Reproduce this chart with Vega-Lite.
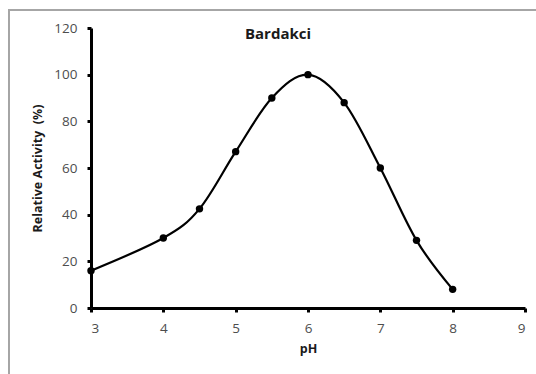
{
  "$schema": "https://vega.github.io/schema/vega-lite/v6.json",
  "width": 434,
  "height": 280,
  "autosize": {"type": "none"},
  "padding": {"left": 91, "top": 28, "right": 11, "bottom": 66},
  "background": "white",
  "title": {
    "text": "Bardakci",
    "anchor": "middle",
    "dx": -30,
    "offset": -33,
    "fontSize": 15,
    "fontWeight": "bold",
    "font": "Open Sans",
    "color": "#1a1a1a"
  },
  "data": {
    "values": [
      {"pH": 3, "activity": 16},
      {"pH": 4, "activity": 30},
      {"pH": 4.5, "activity": 42.5},
      {"pH": 5, "activity": 67},
      {"pH": 5.5, "activity": 90},
      {"pH": 6, "activity": 100},
      {"pH": 6.5, "activity": 88},
      {"pH": 7, "activity": 60},
      {"pH": 7.5, "activity": 29},
      {"pH": 8, "activity": 8}
    ]
  },
  "layer": [
    {
      "mark": {
        "type": "line",
        "interpolate": "cardinal",
        "tension": 0,
        "color": "black",
        "strokeWidth": 2.2
      },
      "encoding": {
        "x": {
          "field": "pH",
          "type": "quantitative",
          "title": "pH",
          "scale": {"domain": [3, 9], "nice": false, "zero": false},
          "axis": {
            "values": [3, 4, 5, 6, 7, 8, 9],
            "format": "d",
            "grid": false,
            "domainColor": "#000000",
            "domainWidth": 3,
            "tickColor": "#000000",
            "tickWidth": 3,
            "tickSize": 4,
            "labelPadding": 9,
            "labelFont": "Open Sans",
            "labelFontSize": 13.5,
            "labelColor": "#4d4d4d",
            "titleFont": "Open Sans",
            "titleFontSize": 12.5,
            "titleFontWeight": "bold",
            "titleColor": "#1a1a1a",
            "titlePadding": 8
          }
        },
        "y": {
          "field": "activity",
          "type": "quantitative",
          "title": "Relative Activity\u00a0\u00a0(%)",
          "scale": {"domain": [0, 120], "nice": false},
          "axis": {
            "values": [0, 20, 40, 60, 80, 100, 120],
            "grid": false,
            "domainColor": "#000000",
            "domainWidth": 3,
            "tickColor": "#000000",
            "tickWidth": 3,
            "tickSize": 4,
            "labelPadding": 10,
            "labelFont": "Open Sans",
            "labelFontSize": 13.5,
            "labelColor": "#4d4d4d",
            "titleFont": "Open Sans",
            "titleFontSize": 12.5,
            "titleFontWeight": "bold",
            "titleColor": "#1a1a1a",
            "titlePadding": 9
          }
        }
      }
    },
    {
      "mark": {
        "type": "point",
        "filled": true,
        "color": "black",
        "opacity": 1,
        "size": 55
      },
      "encoding": {
        "x": {"field": "pH", "type": "quantitative"},
        "y": {"field": "activity", "type": "quantitative"}
      }
    },
    {
      "mark": {
        "type": "rect",
        "fill": null,
        "stroke": "#a6a6a6",
        "strokeWidth": 1.2,
        "clip": false
      },
      "encoding": {
        "x": {"datum": 1.865},
        "x2": {"datum": 12},
        "y": {"datum": 127.7},
        "y2": {"datum": -40}
      }
    }
  ],
  "config": {
    "view": {"stroke": null}
  }
}
